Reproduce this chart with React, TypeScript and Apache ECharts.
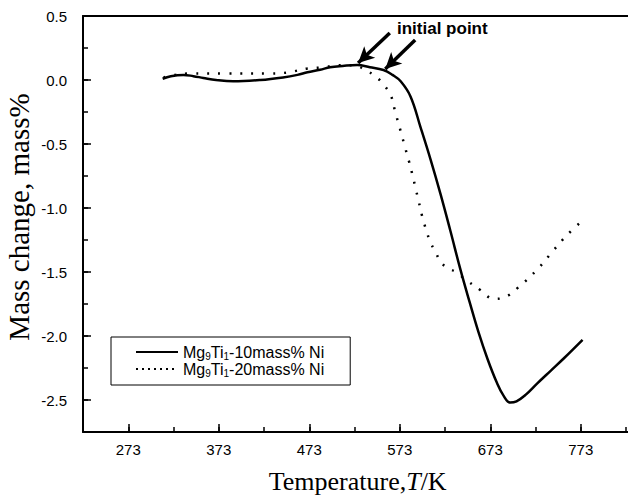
import React, { useEffect, useRef } from "react";
import * as echarts from "echarts";

// Temperatures in K, mass change in mass%
const tempSolid = [311, 320, 334, 345, 356, 370, 389, 419, 444, 460, 471, 485, 496, 510, 526, 540, 555, 565, 574, 585, 596, 607, 618, 629, 640, 650, 660, 670, 680, 688, 695, 702, 712, 725, 740, 755, 775];
const massSolid = [0.01, 0.03, 0.04, 0.03, 0.016, 0.0, -0.01, 0.0, 0.02, 0.04, 0.06, 0.08, 0.10, 0.11, 0.117, 0.10, 0.078, 0.04, -0.01, -0.13, -0.37, -0.62, -0.89, -1.18, -1.48, -1.73, -1.97, -2.18, -2.36, -2.47, -2.52, -2.51, -2.46, -2.37, -2.27, -2.17, -2.03];

const tempDotted = [312, 325, 340, 380, 430, 450, 471, 490, 504, 515, 525, 535, 544, 552, 563, 568, 574, 579, 583, 587, 590, 594, 598, 603, 607, 613, 618, 626, 635, 646, 662, 677, 688, 704, 725, 743, 758, 773];
const massDotted = [0.02, 0.04, 0.05, 0.05, 0.05, 0.06, 0.09, 0.10, 0.115, 0.115, 0.11, 0.078, 0.04, -0.01, -0.12, -0.25, -0.40, -0.53, -0.63, -0.74, -0.83, -0.95, -1.07, -1.19, -1.27, -1.35, -1.42, -1.47, -1.50, -1.56, -1.64, -1.71, -1.70, -1.62, -1.48, -1.33, -1.21, -1.11];

const seriesNames = ["Mg9Ti1-10mass% Ni", "Mg9Ti1-20mass% Ni"];
const legendRich = [
  "{n|Mg}{s|9}{n|Ti}{s|1}{n|-10mass% Ni}",
  "{n|Mg}{s|9}{n|Ti}{s|1}{n|-20mass% Ni}",
];

// axis ranges and tick labels
const xMinK = 223;
const xMaxK = 830;
const xMajorFirstK = 273;
const xMajorLastK = 773;
const yMin = -2.75;
const yMax = 0.5;
const yMajorMin = -2.5;

// annotation arrows ("initial point"), data coordinates (K, mass%)
const arrowTailT = [562, 590];
const arrowTailV = [0.367, 0.3125];
const arrowHeadT = [527, 557];
const arrowHeadV = [0.133, 0.086];

export default function App() {
  const ref = useRef<HTMLDivElement>(null);
  useEffect(() => {
    if (!ref.current) return;
    const chart = echarts.init(ref.current, undefined, { renderer: "svg" });
    const sans = '"Liberation Sans", Arial, sans-serif';
    const serif = '"Liberation Serif", "Times New Roman", serif';
    const W = 628;
    const gLeft = 83, gTop = 16, gBottom = 66;
    const pxPerK = (580.75 - 128.25) / (xMajorLastK - xMajorFirstK);
    const gRight = W - (gLeft + (xMaxK - xMinK) * pxPerK);
    const pxPerV = 128;
    const OFF = xMinK; // x data stored as K - 223 so min is 0
    const black = "#000";
    const tickStyle = { color: black, width: 1.5 };

    chart.setOption({
      animation: false,
      backgroundColor: "#fff",
      grid: [
        { left: gLeft, right: gRight, top: gTop, bottom: gBottom, outerBoundsMode: "none", containLabel: false },
        {
          left: gLeft + (xMajorFirstK - xMinK) * pxPerK,
          right: gRight + (xMaxK - xMajorLastK) * pxPerK,
          top: gTop,
          bottom: gBottom,
          outerBoundsMode: "none",
          containLabel: false,
        },
        {
          left: gLeft,
          right: gRight,
          top: gTop,
          bottom: gBottom + (yMajorMin - yMin) * pxPerV,
          outerBoundsMode: "none",
          containLabel: false,
        },
      ],
      legend: {
        left: 111,
        top: 337,
        orient: "vertical",
        itemWidth: 42,
        itemHeight: 14,
        itemGap: 0,
        padding: [7, 26, 7, 24],
        borderColor: black,
        borderWidth: 1,
        selectedMode: false,
        itemStyle: { color: "rgba(0,0,0,0)", borderWidth: 0, opacity: 0 },
        formatter: (name: string) => legendRich[seriesNames.indexOf(name)],
        textStyle: {
          color: black,
          fontFamily: sans,
          rich: {
            n: { fontSize: 16, lineHeight: 18, fontFamily: sans, color: black, verticalAlign: "middle" },
            s: { fontSize: 10, lineHeight: 18, fontFamily: sans, color: black, verticalAlign: "bottom" },
          },
        },
        data: [
          { name: seriesNames[0] },
          { name: seriesNames[1], lineStyle: { type: [2, 4] } },
        ],
      },
      xAxis: [
        {
          gridIndex: 0,
          type: "value",
          min: 0,
          max: xMaxK - xMinK,
          interval: 50,
          position: "bottom",
          splitLine: { show: false },
          axisLine: { show: true, onZero: false, lineStyle: { color: black, width: 2 } },
          axisTick: { show: true, inside: true, length: 5, lineStyle: tickStyle },
          axisLabel: { show: false },
          name: "{a|Temperature,}{i|T}{a|/K}",
          nameLocation: "middle",
          nameGap: 36,
          nameTextStyle: {
            rich: {
              a: { fontFamily: serif, fontSize: 26, color: black },
              i: { fontFamily: serif, fontSize: 26, fontStyle: "italic", color: black },
            },
          },
        },
        {
          gridIndex: 0,
          type: "value",
          min: 0,
          max: xMaxK - xMinK,
          position: "top",
          splitLine: { show: false },
          axisLine: { show: true, onZero: false, lineStyle: { color: black, width: 2 } },
          axisTick: { show: false },
          axisLabel: { show: false },
        },
        {
          gridIndex: 1,
          type: "value",
          min: 0,
          max: xMajorLastK - xMajorFirstK,
          interval: 100,
          position: "bottom",
          splitLine: { show: false },
          axisLine: { show: false, onZero: false },
          axisTick: { show: true, inside: true, length: 8, lineStyle: tickStyle },
          axisLabel: {
            show: true,
            formatter: (v: number) => String(Math.round(v + xMajorFirstK)),
            margin: 10,
            fontSize: 15,
            color: black,
            fontFamily: sans,
          },
        },
        { gridIndex: 2, type: "value", min: 0, max: 1, show: false },
      ],
      yAxis: [
        {
          gridIndex: 0,
          type: "value",
          min: yMin,
          max: yMax,
          interval: 0.25,
          position: "left",
          splitLine: { show: false },
          axisLine: { show: true, onZero: false, lineStyle: { color: black, width: 2 } },
          axisTick: { show: true, inside: true, length: 5, lineStyle: tickStyle },
          axisLabel: { show: false },
          name: "Mass change, mass%",
          nameLocation: "middle",
          nameGap: 50,
          nameTextStyle: { fontFamily: serif, fontSize: 29, color: black, padding: [0, 0, 0, 14] },
        },
        { gridIndex: 1, type: "value", min: 0, max: 1, show: false },
        {
          gridIndex: 2,
          type: "value",
          min: yMajorMin,
          max: yMax,
          interval: 0.5,
          position: "left",
          splitLine: { show: false },
          axisLine: { show: false, onZero: false },
          axisTick: { show: true, inside: true, length: 8, lineStyle: tickStyle },
          axisLabel: {
            show: true,
            formatter: (v: number) => v.toFixed(1),
            margin: 16,
            fontSize: 15,
            color: black,
            fontFamily: sans,
          },
        },
      ],
      graphic: [
        {
          type: "text",
          left: 397,
          top: 20,
          style: { text: "initial point", fontFamily: sans, fontSize: 17, fontWeight: "bold", fill: black },
        },
      ],
      series: [
        {
          name: seriesNames[0],
          type: "line",
          xAxisIndex: 0,
          yAxisIndex: 0,
          symbol: "none",
          smooth: 0.4,
          lineStyle: { color: black, width: 2.5, type: "solid" },
          itemStyle: { color: black },
          data: tempSolid.map((t, i) => [t - OFF, massSolid[i]]),
          markLine: {
            silent: true,
            symbol: ["none", "arrow"],
            symbolSize: [12, 16],
            lineStyle: { color: black, width: 3.5, type: "solid" },
            label: { show: false },
            data: arrowTailT.map((t, i) => [
              { coord: [t - OFF, arrowTailV[i]] },
              { coord: [arrowHeadT[i] - OFF, arrowHeadV[i]] },
            ]),
          },
        },
        {
          name: seriesNames[1],
          type: "line",
          xAxisIndex: 0,
          yAxisIndex: 0,
          symbol: "none",
          smooth: 0.4,
          lineStyle: { color: black, width: 2.5, type: [2, 9] },
          itemStyle: { color: black },
          data: tempDotted.map((t, i) => [t - OFF, massDotted[i]]),
        },
      ],
    });
    return () => chart.dispose();
  }, []);
  return (
    <div
      ref={ref}
      style={{ width: 628, height: 498, position: "fixed", left: 0, top: 0, background: "#fff" }}
    />
  );
}
